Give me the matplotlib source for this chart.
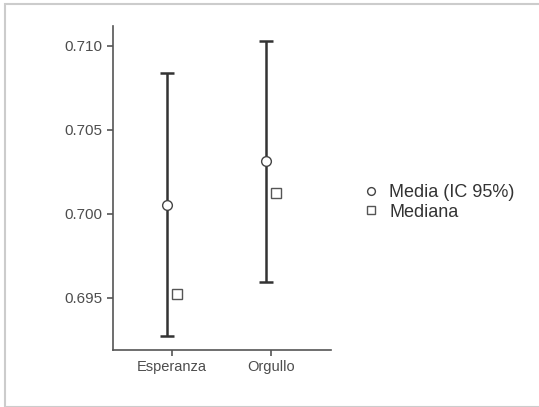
import matplotlib
matplotlib.use("Agg")
from matplotlib import pyplot as plt
from matplotlib.patches import Rectangle

categories = ["Esperanza", "Orgullo"]
media = [0.70054, 0.70315]
ci_low = [0.69274, 0.69595]
ci_high = [0.70839, 0.71030]
mediana = [0.69524, 0.70125]

plt.rcParams['font.family'] = ['Liberation Sans', 'DejaVu Sans']

fig = plt.figure(figsize=(5.39, 4.07), dpi=100)
fig.patches.append(Rectangle((5 / 539, 0), 1.1, 1 - 4 / 407, transform=fig.transFigure,
                             fill=False, edgecolor='#cccccc', linewidth=1.5))
ax = fig.add_axes([113 / 539, 1 - 350 / 407, 218 / 539, 324 / 407])

pos = range(1, len(categories) + 1)
dodge = 0.05
x_mean = [p - dodge for p in pos]
x_med = [p + dodge for p in pos]

err = [[m - lo for m, lo in zip(media, ci_low)], [hi - m for m, hi in zip(media, ci_high)]]
ax.errorbar(x_mean, media, yerr=err, fmt='none', ecolor='#333333', elinewidth=1.8,
            capsize=5, capthick=1.8, zorder=2)
ax.plot(x_mean, media, 'o', markersize=7, markerfacecolor='white',
        markeredgecolor='#444444', markeredgewidth=1, linestyle='none',
        label='Media (IC 95%)', zorder=3)
ax.plot(x_med, mediana, 's', markersize=6.5, markerfacecolor='white',
        markeredgecolor='#555555', markeredgewidth=1, linestyle='none',
        label='Mediana', zorder=3)

ax.set_xlim(0.404, 2.6)
ax.set_ylim(0.69190, 0.71119)
ax.set_xticks(list(pos))
ax.set_xticklabels(categories)
ax.set_yticks([0.695, 0.700, 0.705, 0.710])
ax.set_yticklabels(["0.695", "0.700", "0.705", "0.710"])

for s in ['top', 'right']:
    ax.spines[s].set_visible(False)
for s in ['left', 'bottom']:
    ax.spines[s].set_color('#555555')
    ax.spines[s].set_linewidth(1.2)
ax.tick_params(axis='y', labelsize=11)
ax.tick_params(axis='x', labelsize=10.5)
ax.tick_params(colors='#555555', labelcolor='#4d4d4d', length=4, width=1.2)

ax.legend(loc='center left', bbox_to_anchor=(1.06, 0.455), frameon=False,
          fontsize=13, labelcolor='#333333', handletextpad=0.4,
          labelspacing=0.12, handlelength=1.2, markerscale=0.8)

fig.savefig("out.png", dpi=100)
